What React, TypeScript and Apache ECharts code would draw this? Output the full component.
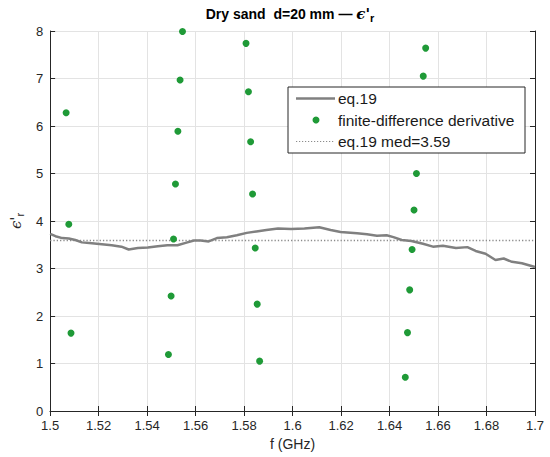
import React, { useEffect, useRef } from "react";
import * as echarts from "echarts";

const X_MIN = 1.5;
const X_MAX = 1.7;
const X_STEP = 0.02;
const Y_MIN = 0;
const Y_MAX = 8;
const Y_STEP = 1;

const FREQ_LINE = [
  1.5, 1.5022, 1.505, 1.5077, 1.5104, 1.5131, 1.5172, 1.5213, 1.5254, 1.5294,
  1.5324, 1.5362, 1.5403, 1.5444, 1.5484, 1.5525, 1.5559, 1.5593, 1.5621, 1.5654,
  1.5688, 1.5729, 1.577, 1.5811, 1.5851, 1.5892, 1.594, 1.5994, 1.6049, 1.611,
  1.6157, 1.6198, 1.6225, 1.6266, 1.6307, 1.6348, 1.6388, 1.6416, 1.645, 1.649,
  1.6538, 1.6579, 1.662, 1.6674, 1.6721, 1.6755, 1.6796, 1.6837, 1.6871, 1.6905,
  1.6946, 1.7,
];
const EPS_LINE = [
  3.73, 3.68, 3.64, 3.63, 3.6, 3.55, 3.53, 3.51, 3.49, 3.46,
  3.4, 3.43, 3.44, 3.47, 3.49, 3.49, 3.54, 3.59, 3.59, 3.57,
  3.64, 3.66, 3.7, 3.75, 3.78, 3.81, 3.84, 3.83, 3.84, 3.87,
  3.81, 3.77, 3.76, 3.74, 3.72, 3.69, 3.7, 3.66, 3.6, 3.58,
  3.52, 3.46, 3.48, 3.43, 3.45, 3.37, 3.31, 3.18, 3.21, 3.14,
  3.11, 3.03,
];

const FD_FREQ = [
  1.5066, 1.5077, 1.5086,
  1.5488, 1.5499, 1.5509, 1.5517, 1.5527, 1.5536, 1.5546,
  1.5808, 1.5818, 1.5827, 1.5835, 1.5846, 1.5854, 1.5864,
  1.6465, 1.6474, 1.6483, 1.6493, 1.6501, 1.6511, 1.6539, 1.6549,
];
const FD_EPS = [
  6.28, 3.93, 1.64,
  1.19, 2.42, 3.62, 4.78, 5.89, 6.97, 7.99,
  7.74, 6.72, 5.67, 4.57, 3.43, 2.25, 1.05,
  0.71, 1.65, 2.55, 3.4, 4.23, 5.0, 7.05, 7.64,
];

const MEDIAN = 3.59;

const LEGEND_LABELS = ["eq.19", "finite-difference derivative", "eq.19 med=3.59"];

const FONT = "'Liberation Sans', Arial, Helvetica, sans-serif";
const GREEN = "#1f9a37";
const GRAY = "#808080";
const AXIS = "#262626";

export default function App() {
  const ref = useRef<HTMLDivElement>(null);

  useEffect(() => {
    document.body.style.margin = "0";
    if (!ref.current) return;
    const chart = echarts.init(ref.current, null, { renderer: "svg" });

    const lineData = FREQ_LINE.map((f, i) => [f, EPS_LINE[i]]);
    const fdData = FD_FREQ.map((f, i) => [f, FD_EPS[i]]);
    const medData = [
      [X_MIN, MEDIAN],
      [X_MAX, MEDIAN],
    ];

    const lx = 288;
    const ly = 87;
    const lw = 237;
    const lh = 66;
    const rowY = [ly + 11.5, ly + 33, ly + 54.5];

    const option: any = {
      animation: false,
      backgroundColor: "#ffffff",
      textStyle: { fontFamily: FONT },
      grid: { left: 44.5, right: 15, top: 31, bottom: 46, containLabel: false },
      xAxis: [
        {
          type: "value",
          min: X_MIN,
          max: X_MAX,
          interval: X_STEP,
          position: "bottom",
          name: "f (GHz)",
          nameLocation: "middle",
          nameGap: 24,
          nameTextStyle: { fontSize: 14, color: AXIS, fontFamily: FONT },
          axisLine: { show: true, lineStyle: { color: AXIS, width: 1 } },
          axisTick: { show: true, inside: true, length: 5, lineStyle: { color: AXIS } },
          axisLabel: { fontSize: 13, color: AXIS, margin: 8, fontFamily: FONT },
          splitLine: { show: true, lineStyle: { color: "#e3e3e3", width: 1 } },
        },
        {
          type: "value",
          min: X_MIN,
          max: X_MAX,
          interval: X_STEP,
          position: "top",
          axisLine: { show: true, lineStyle: { color: AXIS, width: 1 } },
          axisTick: { show: true, inside: true, length: 5, lineStyle: { color: AXIS } },
          axisLabel: { show: false },
          splitLine: { show: false },
        },
      ],
      yAxis: [
        {
          type: "value",
          min: Y_MIN,
          max: Y_MAX,
          interval: Y_STEP,
          position: "left",
          name: "{e|ϵ'}{s|r}",
          nameLocation: "middle",
          nameRotate: 90,
          nameGap: 22,
          nameTextStyle: {
            color: AXIS,
            rich: {
              e: { fontSize: 15, fontFamily: "'DejaVu Serif', serif", fontStyle: "italic", color: AXIS },
              s: { fontSize: 11, fontFamily: FONT, color: AXIS, padding: [8, 0, 0, 0] },
            },
          },
          axisLine: { show: true, lineStyle: { color: AXIS, width: 1 } },
          axisTick: { show: true, inside: true, length: 5, lineStyle: { color: AXIS } },
          axisLabel: { fontSize: 13, color: AXIS, margin: 7, fontFamily: FONT },
          splitLine: { show: true, lineStyle: { color: "#e3e3e3", width: 1 } },
        },
        {
          type: "value",
          min: Y_MIN,
          max: Y_MAX,
          interval: Y_STEP,
          position: "right",
          axisLine: { show: true, lineStyle: { color: AXIS, width: 1 } },
          axisTick: { show: true, inside: true, length: 5, lineStyle: { color: AXIS } },
          axisLabel: { show: false },
          splitLine: { show: false },
        },
      ],
      series: [
        {
          name: LEGEND_LABELS[0],
          type: "line",
          data: lineData,
          showSymbol: false,
          symbol: "none",
          lineStyle: { color: GRAY, width: 2.5 },
          z: 3,
        },
        {
          name: LEGEND_LABELS[1],
          type: "scatter",
          data: fdData,
          symbol: "circle",
          symbolSize: 7,
          itemStyle: { color: GREEN, opacity: 1 },
          z: 4,
        },
        {
          name: LEGEND_LABELS[2],
          type: "line",
          data: medData,
          showSymbol: false,
          symbol: "none",
          lineStyle: { color: "#8c8c8c", width: 1.3, type: [1.3, 2] },
          z: 2,
        },
      ],
      graphic: [
        {
          type: "text",
          x: 290,
          y: 14,
          style: {
            text: "{b|Dry sand  d=20 mm — }{e|ϵ'}{s|r}",
            align: "center",
            verticalAlign: "middle",
            rich: {
              b: { fontSize: 14, fontWeight: "bold", fontFamily: FONT, fill: "#000" },
              e: { fontSize: 15, fontStyle: "italic", fontWeight: "bold", fontFamily: "'DejaVu Serif', serif", fill: "#000" },
              s: { fontSize: 11, fontWeight: "bold", fontFamily: FONT, fill: "#000", padding: [8, 0, 0, 0] },
            },
          },
        },
        {
          type: "rect",
          z: 100,
          shape: { x: lx, y: ly, width: lw, height: lh },
          style: { fill: "#ffffff", stroke: AXIS, lineWidth: 1 },
        },
        {
          type: "line",
          z: 101,
          shape: { x1: lx + 8, y1: rowY[0], x2: lx + 47, y2: rowY[0] },
          style: { stroke: GRAY, lineWidth: 2.5 },
        },
        {
          type: "circle",
          z: 101,
          shape: { cx: lx + 28, cy: rowY[1], r: 3.5 },
          style: { fill: GREEN },
        },
        {
          type: "line",
          z: 101,
          shape: { x1: lx + 8, y1: rowY[2], x2: lx + 47, y2: rowY[2] },
          style: { stroke: "#8c8c8c", lineWidth: 1.2, lineDash: [1.2, 1.8] },
        },
        ...LEGEND_LABELS.map((t, i) => ({
          type: "text",
          z: 101,
          x: lx + 50,
          y: rowY[i],
          style: {
            text: t,
            fontSize: 15.5,
            fontFamily: FONT,
            fill: "#1a1a1a",
            align: "left",
            verticalAlign: "middle",
          },
        })),
      ],
    };

    chart.setOption(option);
    return () => {
      chart.dispose();
    };
  }, []);

  return <div ref={ref} style={{ width: 550, height: 457 }} />;
}
